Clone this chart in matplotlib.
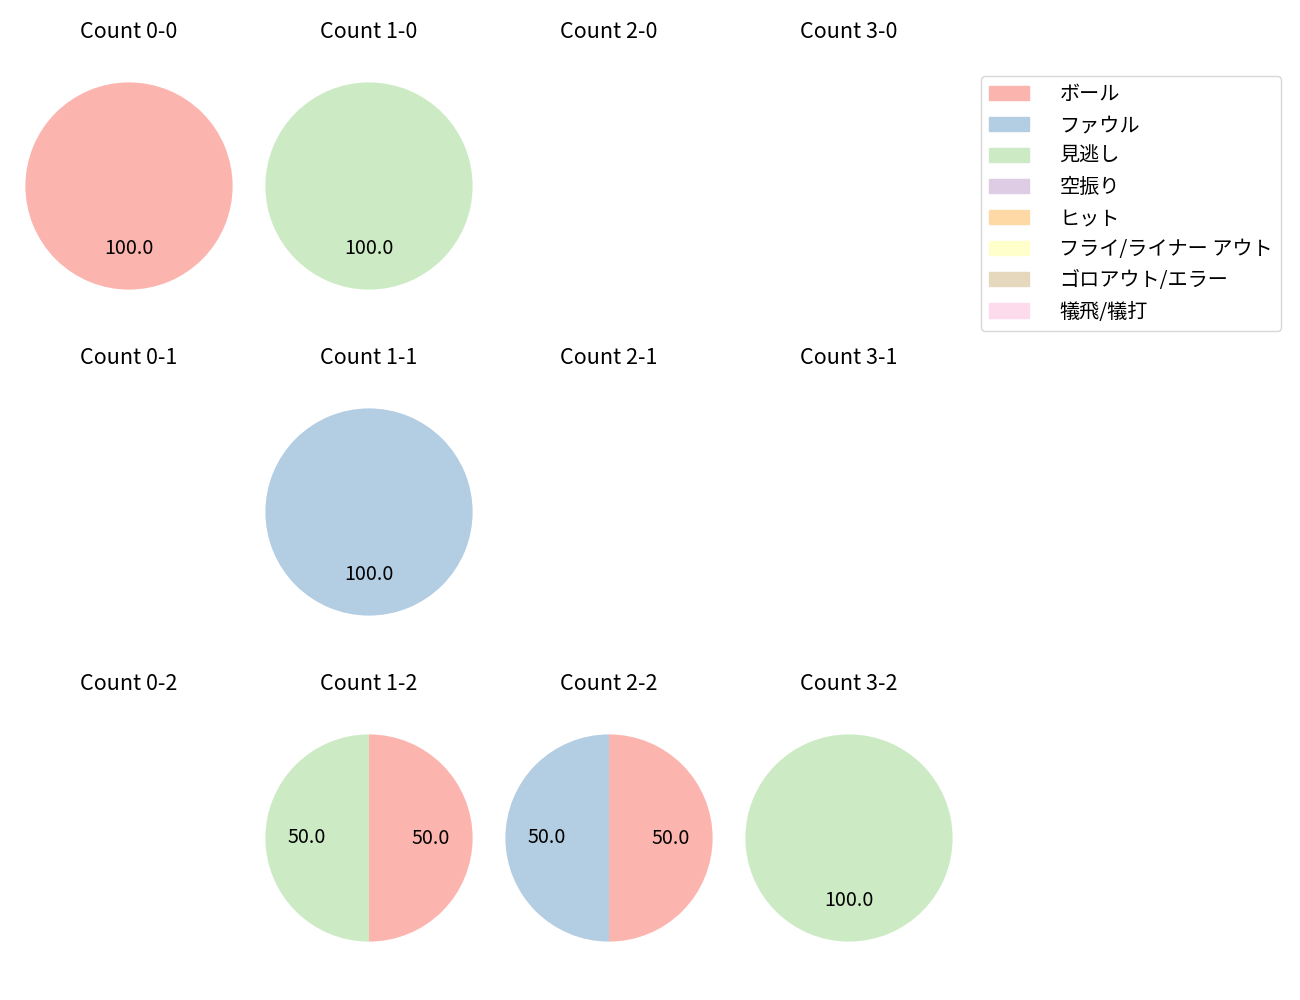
import matplotlib
matplotlib.use("Agg")
import matplotlib.pyplot as plt
from matplotlib.patches import Patch

plt.rcParams['font.family'] = ['Noto Sans CJK JP', 'DejaVu Sans']
plt.rcParams['font.size'] = 12

categories = ["ボール", "ファウル", "見逃し", "空振り", "ヒット",
              "フライ/ライナー アウト", "ゴロアウト/エラー", "犠飛/犠打"]
colors = ["#fbb4ae", "#b3cde3", "#ccebc5", "#decbe4", "#fed9a6",
          "#ffffcc", "#e5d8bd", "#fddaec"]

balls = [0, 1, 2, 3]
strikes = [0, 1, 2]

# counts per (balls, strikes): values in category order
pitches = {
    (0, 0): [1, 0, 0, 0, 0, 0, 0, 0],
    (1, 0): [0, 0, 1, 0, 0, 0, 0, 0],
    (1, 1): [0, 1, 0, 0, 0, 0, 0, 0],
    (1, 2): [1, 0, 1, 0, 0, 0, 0, 0],
    (2, 2): [1, 1, 0, 0, 0, 0, 0, 0],
    (3, 2): [0, 0, 1, 0, 0, 0, 0, 0],
}

fig = plt.figure(figsize=(13, 10), dpi=100)
W, H = 1300, 1000
box = 259
for s in strikes:
    for b in balls:
        cx = 129 + 240 * b
        cy = 186 + 326 * s
        ax = fig.add_axes([(cx - box / 2) / W, 1 - (cy + box / 2) / H, box / W, box / H])
        ax.set_title(f"Count {b}-{s}", pad=13, fontsize=15.5)
        vals = pitches.get((b, s))
        if vals is None:
            ax.axis("off")
            continue
        v = [x for x in vals if x > 0]
        c = [colors[i] for i, x in enumerate(vals) if x > 0]
        ax.pie(v, colors=c, autopct="%.1f", startangle=90, counterclock=False,
               textprops={"fontsize": 14.2})

handles = [Patch(color=col, label=lab) for col, lab in zip(colors, categories)]
fig.legend(handles=handles, loc="upper right", bbox_to_anchor=(1281 / W, 1 - 76 / H),
           borderaxespad=0, fontsize=14.5, handletextpad=1.5)

fig.savefig("out.png")
